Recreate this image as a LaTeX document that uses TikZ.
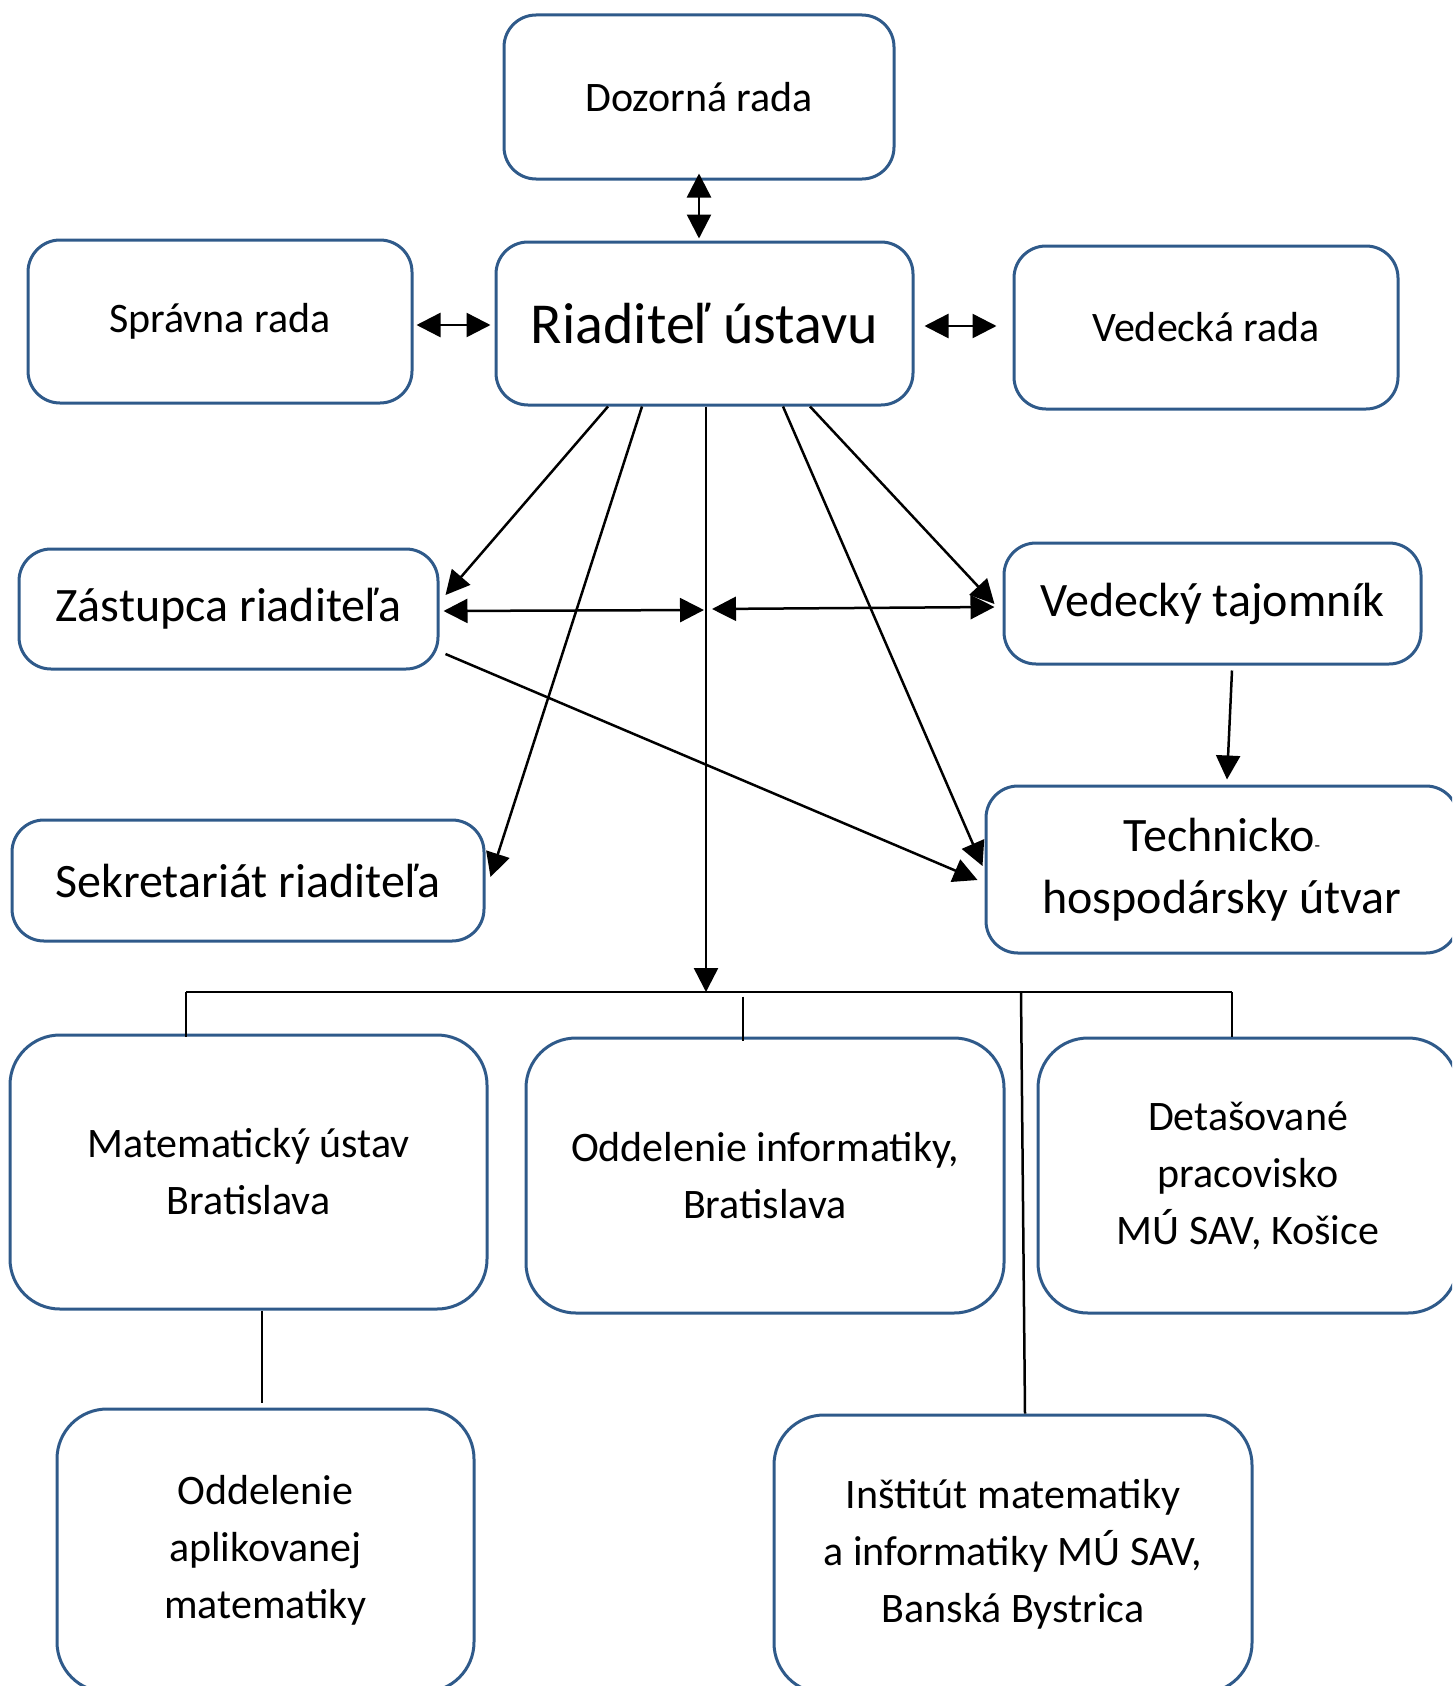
\documentclass[tikz,border=0pt]{standalone}
\usepackage{fontspec}
\setmainfont{Carlito}
\usetikzlibrary{arrows.meta,calc}
\definecolor{boxblue}{HTML}{2F5A8A}
\tikzset{
  orgbox/.style={draw=boxblue, line width=3pt, rounded corners=32pt, align=center, inner sep=0pt},
  lowbox/.style={orgbox, rounded corners=50pt, font=\fontsize{42}{57}\selectfont},
  link/.style={line width=2.5pt},
  arr/.style={link, -{Triangle[length=24pt,width=24pt]}},
  darr/.style={link, {Triangle[length=24pt,width=24pt]}-{Triangle[length=24pt,width=24pt]}}
}
\begin{document}
\begin{tikzpicture}[x=1pt,y=-1pt]
\useasboundingbox (0,0) rectangle (1452,1686);
\clip (0,0) rectangle (1452,1686);

% top row
\node[orgbox, minimum width=390, minimum height=164, font=\fontsize{42}{50}\selectfont] (dozor) at (699,97) {Dozorná rada};
\node[orgbox, minimum width=417, minimum height=163, font=\fontsize{58}{66}\selectfont] (riad) at (704.5,323.5) {Riaditeľ ústavu};
\node[orgbox, minimum width=384, minimum height=163, font=\fontsize{42}{50}\selectfont] (sprav) at (220,321.5) {Správna rada};
\node[orgbox, minimum width=384, minimum height=163, font=\fontsize{42}{50}\selectfont] (vedrada) at (1206,327.5) {Vedecká rada};

% middle
\node[orgbox, minimum width=419, minimum height=120, font=\fontsize{48}{62}\selectfont] (zast) at (228.5,609) {Zástupca riaditeľa};
\node[orgbox, minimum width=417, minimum height=121, font=\fontsize{48}{62}\selectfont] (tajom) at (1212.5,603.5) {Vedecký tajomník};
\node[orgbox, minimum width=472, minimum height=121, font=\fontsize{48}{62}\selectfont] (sekr) at (248,880.5) {Sekretariát riaditeľa};
\node[orgbox, minimum width=472, minimum height=167, font=\fontsize{48}{62}\selectfont] (thu) at (1222,869.5) {Technicko{\fontsize{18}{18}\selectfont-}\\hospodársky útvar};

% bottom
\node[lowbox, minimum width=477, minimum height=274] (matu) at (248.5,1172) {Matematický ústav\\Bratislava};
\node[lowbox, minimum width=478, minimum height=275] (oinf) at (765,1175.5) {Oddelenie informatiky,\\Bratislava};
\node[lowbox, minimum width=420, minimum height=275] (detas) at (1248,1175.5) {Detašované\\pracovisko\\MÚ SAV, Košice};
\node[lowbox, minimum width=417, minimum height=283] (oapl) at (265.5,1550.5) {Oddelenie\\aplikovanej\\matematiky};
\node[lowbox, minimum width=478, minimum height=278] (inst) at (1013,1554) {Inštitút matematiky\\a informatiky MÚ SAV,\\Banská Bystrica};

\coordinate (busL) at (186,992);
\coordinate (busR) at (1232,992);
\coordinate (busM) at (706,992);
\coordinate (busI) at (1021,992);
\coordinate (midL) at (704,610);
\coordinate (midR) at (712,609);

% links
\draw[darr] ($(dozor.south)+(0,-7)$) -- ($(dozor.south |- riad.north)+(0,-2)$);
\draw[darr] ($(sprav.east)+(3,3.5)$) -- ($(riad.west)+(-4,1.5)$);
\draw[darr] ($(riad.east)+(10,2.5)$) -- ($(vedrada.west)+(-16,-1.5)$);

\draw[arr] ($(riad.south)+(-96.5,0)$) -- ($(zast.east)+(6,-14)$);
\draw[arr] ($(riad.south)+(-62.5,0)$) -- ($(sekr.east)+(5,-3.5)$);
\draw[arr] ($(riad.south)+(78.5,0)$) -- ($(thu.west)+(-2,-3.5)$);
\draw[arr] ($(riad.south)+(105.5,0)$) -- ($(tajom.west)+(-8,0.5)$);
\draw[arr] ($(riad.south)+(1.5,0)$) -- (busM);

\draw[darr] ($(zast.east)+(4,2)$) -- (midL);
\draw[darr] (midR) -- ($(tajom.west)+(-8,3.5)$);
\draw[arr] ($(zast.east)+(6,45)$) -- ($(thu.west)+(-7,10.5)$);
\draw[arr] ($(tajom.south)+(19.5,5)$) -- ($(thu.north)+(5,-5)$);

\draw[link] (busL) -- (busR);
\draw[link] (busL) -- ($(busL |- matu.north)+(0,3)$);
\draw[link] ($(oinf.north)+(-22,-40)$) -- ($(oinf.north)+(-22,4)$);
\draw[link] (busR) -- (busR |- detas.north);
\draw[link] (busI) -- ($(inst.north)+(12,0)$);
\draw[link] ($(matu.south)+(13.5,0)$) -- ($(oapl.north)+(-3.5,-5)$);
\end{tikzpicture}
\end{document}
